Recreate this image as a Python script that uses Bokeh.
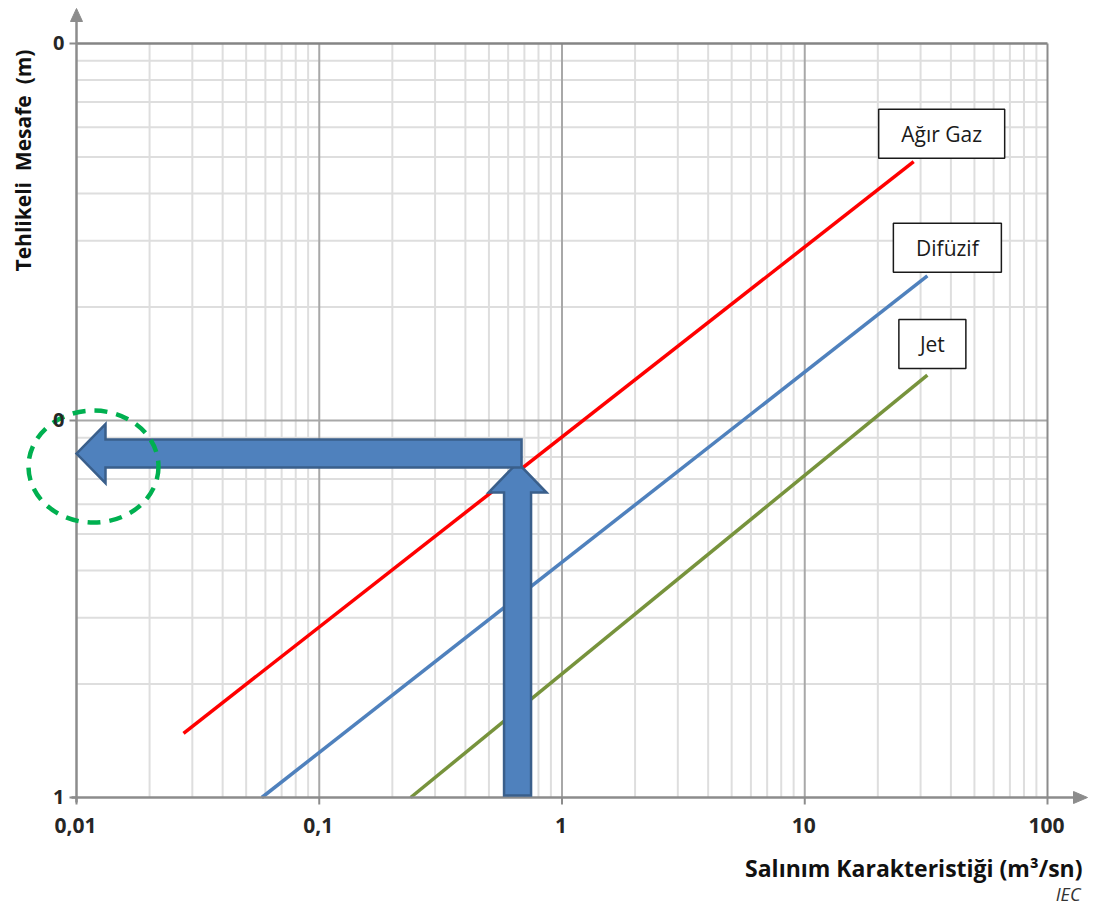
import math
from bokeh.plotting import figure
from bokeh.models import Range1d
from bokeh.core.properties import value
from bokeh.embed import file_html
from bokeh.resources import INLINE

# ---------------- data ----------------
series_names = ["Ağır Gaz", "Difüzif", "Jet"]
release_start = [0.0276, 0.058, 0.238]      # m3/sn
release_end = [28.1, 32.0, 32.0]
distance_start = [1.48, 1.0, 1.0]            # m
distance_end = [48.6, 24.2, 13.2]

x_ticks = [0.01, 0.1, 1, 10, 100]
x_tick_labels = ["0,01", "0,1", "1", "10", "100"]
y_ticks = [1, 10, 100]
y_tick_labels = ["1", "0", "0"]

example_release = 0.656      # worked example: release characteristic
example_distance = 8.17      # worked example: hazardous distance

x_title = "Salınım Karakteristiği (m³/sn)"
y_title = "Tehlikeli\u00a0\u00a0Mesafe\u00a0\u00a0(m)"
source_note = "IEC"

# ---------------- styling ----------------
series_colors = ["#FF0000", "#4F81BD", "#77933C"]
FONT = value("Open Sans")
PXD = 242.75   # pixels per decade, x
PYD = 377.0    # pixels per decade, y
W, H = 1097, 907
X0, Y0 = 76, 797   # canvas pixel of (0.01, 1)


def shift(x, y, dx=0.0, dy=0.0):
    """move a data point by screen pixels (dy positive = down)"""
    return x * 10 ** (dx / PXD), y * 10 ** (-dy / PYD)


x_lo, _ = shift(x_ticks[0], 1, -X0)
x_hi, _ = shift(x_ticks[0], 1, W - X0)
_, y_lo = shift(1, y_ticks[0], 0, H - Y0)
_, y_hi = shift(1, y_ticks[0], 0, -Y0)

p = figure(width=W, height=H, x_axis_type="log", y_axis_type="log",
           x_range=Range1d(x_lo, x_hi), y_range=Range1d(y_lo, y_hi),
           x_axis_location=None, y_axis_location=None, title=None,
           output_backend="svg", toolbar_location=None, min_border=0)
p.grid.visible = False
p.outline_line_color = None
p.background_fill_color = "white"
p.border_fill_color = "white"

xmin, xmax = x_ticks[0], x_ticks[-1]
ymin, ymax = y_ticks[0], y_ticks[-1]

# ---------------- grid ----------------
minor_x = [k * 10 ** d for d in range(-2, 2) for k in range(2, 10)]
minor_y = [k * 10 ** d for d in range(0, 2) for k in range(2, 10)]
p.segment(x0=minor_x, y0=[ymin] * len(minor_x), x1=minor_x, y1=[ymax] * len(minor_x),
          line_color="#DEDEDE", line_width=2)
p.segment(x0=[xmin] * len(minor_y), y0=minor_y, x1=[xmax] * len(minor_y), y1=minor_y,
          line_color="#DEDEDE", line_width=2)
major_x = x_ticks[1:-1]
major_y = y_ticks[1:-1]
p.segment(x0=major_x, y0=[ymin] * len(major_x), x1=major_x, y1=[ymax] * len(major_x),
          line_color="#A8A8A8", line_width=2)
p.segment(x0=[xmin] * len(major_y), y0=major_y, x1=[xmax] * len(major_y), y1=major_y,
          line_color="#A8A8A8", line_width=2)
# frame: top and right
p.segment(x0=[xmin], y0=[ymax], x1=[xmax], y1=[ymax], line_color="#858585", line_width=2.5)
p.segment(x0=[xmax], y0=[ymin], x1=[xmax], y1=[ymax], line_color="#8C8C8C", line_width=2)

# ---------------- series ----------------
for i in range(len(series_names)):
    p.line([release_start[i], release_end[i]], [distance_start[i], distance_end[i]],
           line_color=series_colors[i], line_width=3.5)

# ---------------- legend boxes ----------------
box_offsets = [(28, -28), (20, -28), (5, -31)]
box_sizes = [(126, 49), (108, 49), (67, 49)]
for i in range(len(series_names)):
    bx, by = shift(release_end[i], distance_end[i], *box_offsets[i])
    p.rect(x=[bx], y=[by], width=box_sizes[i][0], height=box_sizes[i][1],
           width_units="screen", height_units="screen",
           fill_color="white", line_color="#1A1A1A", line_width=1.5)
    p.text(x=[bx], y=[by], text=[series_names[i]], text_font=FONT, text_font_size="21px",
           text_align="center", text_baseline="middle", text_color="#1A1A1A")

# ---------------- axes ----------------
ax_col = "#8C8C8C"
ys0 = shift(xmin, ymin, 0, 5)[1]
ytop_base = shift(xmin, ymax, 0, -22)[1]
ytip = shift(xmin, ymax, 0, -35)[1]
p.segment(x0=[xmin], y0=[ys0], x1=[xmin], y1=[ytop_base], line_color=ax_col, line_width=2.5)
p.patch([shift(xmin, 1, -6)[0], xmin, shift(xmin, 1, 6)[0]], [ytop_base, ytip, ytop_base],
        fill_color=ax_col, line_color=ax_col, line_width=1)
xs0 = shift(xmin, ymin, -5)[0]
xr_base = shift(xmax, ymin, 26)[0]
xtip = shift(xmax, ymin, 40)[0]
p.segment(x0=[xs0], y0=[ymin], x1=[xr_base], y1=[ymin], line_color=ax_col, line_width=2.5)
p.patch([xr_base, xtip, xr_base],
        [shift(1, ymin, 0, -6)[1], ymin, shift(1, ymin, 0, 6)[1]],
        fill_color=ax_col, line_color=ax_col, line_width=1)
# tick marks
p.segment(x0=[shift(xmin, 1, -7)[0]] * len(y_ticks), y0=y_ticks, x1=[xmin] * len(y_ticks), y1=y_ticks,
          line_color=ax_col, line_width=2)
p.segment(x0=x_ticks, y0=[ymin] * len(x_ticks), x1=x_ticks, y1=[shift(1, ymin, 0, 7)[1]] * len(x_ticks),
          line_color=ax_col, line_width=2)

# ---------------- worked-example arrows ----------------
ex, ey = example_release, example_distance
arrow_fill, arrow_line = "#4F81BD", "#3A5F8B"
vpts = [(-13.5, (ymin, -2)), (13.5, (ymin, -2)), (13.5, (ey, 39)), (29, (ey, 39)),
        (0, (ey, 9)), (-29, (ey, 39)), (-13.5, (ey, 39))]
vx = [shift(ex, 1, dx)[0] for dx, _ in vpts]
vy = [shift(1, yy, 0, dy)[1] for _, (yy, dy) in vpts]
p.patch(vx, vy, fill_color=arrow_fill, line_color=arrow_line, line_width=2.5, line_join="miter")

hpts = [((xmin, 0), 0), ((xmin, 29), -29.5), ((xmin, 29), -14), ((ex, 4), -14),
        ((ex, 4), 14), ((xmin, 29), 14), ((xmin, 29), 29.5)]
hx = [shift(xx, 1, dx)[0] for (xx, dx), _ in hpts]
hy = [shift(1, ey, 0, dy)[1] for _, dy in hpts]
p.patch(hx, hy, fill_color=arrow_fill, line_color=arrow_line, line_width=2.5, line_join="miter")

cx, cy = shift(xmin, ey, 17, 13)
p.ellipse(x=[cx], y=[cy], width=130, height=112, width_units="screen", height_units="screen",
          fill_color=None, line_color="#00B050", line_width=4.5, line_dash="13 9")

# ---------------- texts ----------------
p.text(x=[xmin] * len(y_ticks), y=y_ticks, text=y_tick_labels, x_offset=-12, y_offset=-1,
       text_font=FONT, text_font_size="20px", text_font_style="bold",
       text_align="right", text_baseline="middle", text_color="#262626")
p.text(x=x_ticks, y=[ymin] * len(x_ticks), text=x_tick_labels, x_offset=-1, y_offset=28,
       text_font=FONT, text_font_size="21px", text_font_style="bold",
       text_align="center", text_baseline="middle", text_color="#262626")
p.text(x=[xmax], y=[ymin], text=[x_title], x_offset=35, y_offset=70,
       text_font=FONT, text_font_size="23px", text_font_style="bold",
       text_align="right", text_baseline="alphabetic", text_color="#111111")
p.text(x=[xmax], y=[ymin], text=[source_note], x_offset=33, y_offset=96,
       text_font=FONT, text_font_size="18px", text_font_style="italic",
       text_align="right", text_baseline="alphabetic", text_color="#333333")
p.text(x=[xmin], y=[ymax], text=[y_title], x_offset=-54, y_offset=117, angle=math.pi / 2,
       text_font=FONT, text_font_size="21px", text_font_style="bold",
       text_align="center", text_baseline="middle", text_color="#111111")

open("out.html", "w").write(file_html(p, INLINE))
